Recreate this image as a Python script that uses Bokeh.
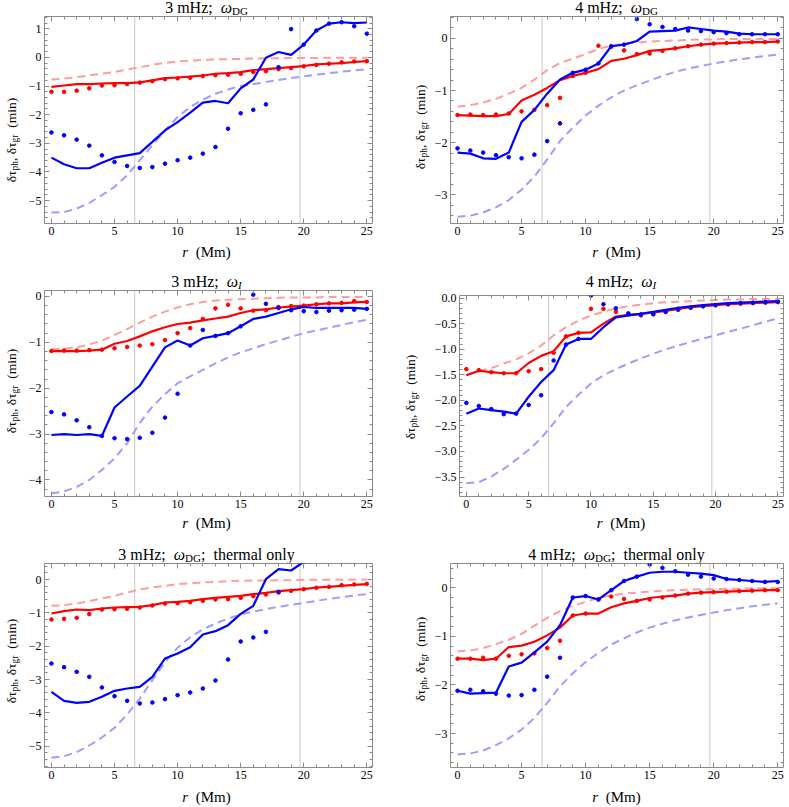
import math
from bokeh.plotting import figure
from bokeh.layouts import column, row
from bokeh.models import Span, LinearAxis, FixedTicker, Range1d, Div
from bokeh.embed import file_html
from bokeh.resources import INLINE

# ---------------- data ----------------
r = list(range(26))                 # r (Mm)
r_marks = [6.6, 19.7]               # vertical reference radii
x_ticks = [0, 5, 10, 15, 20, 25]

# Panel 1: 3 mHz; omega_DG
p1_red_line = [-1.03, -0.98, -0.93, -0.93, -0.91, -0.90, -0.90, -0.87, -0.80, -0.72, -0.70, -0.67, -0.63,
               -0.57, -0.55, -0.51, -0.44, -0.41, -0.37, -0.34, -0.30, -0.24, -0.22, -0.20, -0.16, -0.13]
p1_red_dots = [-1.20, -1.20, -1.16, -1.08, -0.98, -0.97, -0.93, -0.88, -0.83, -0.76, -0.73, -0.71, -0.65,
               -0.62, -0.60, -0.57, -0.51, -0.48, -0.41, -0.37, -0.31, -0.26, -0.22, -0.17, -0.14, -0.13]
p1_red_model = [-0.77, -0.74, -0.69, -0.63, -0.57, -0.51, -0.42, -0.34, -0.26, -0.19, -0.14, -0.11, -0.09,
                -0.07, -0.06, -0.05, -0.04, -0.03, -0.03, -0.02, -0.02, -0.02, -0.01, -0.01, -0.01, -0.01]
p1_blue_line = [-3.50, -3.73, -3.87, -3.87, -3.68, -3.50, -3.42, -3.34, -2.95, -2.55, -2.26, -1.93, -1.58,
                -1.52, -1.60, -1.08, -0.77, -0.01, 0.19, 0.09, 0.45, 0.94, 1.18, 1.23, 1.20, 1.22]
p1_blue_dots = [-2.62, -2.72, -2.87, -3.08, -3.42, -3.65, -3.79, -3.86, -3.83, -3.71, -3.59, -3.50, -3.36,
                -3.13, -2.49, -1.95, -1.83, -1.64, -0.34, 0.99, 0.45, 0.94, 1.18, 1.23, 1.09, 0.83]
p1_blue_model = [-5.42, -5.40, -5.28, -5.08, -4.81, -4.52, -4.12, -3.59, -3.07, -2.55, -2.08, -1.73, -1.47,
                 -1.27, -1.12, -1.00, -0.93, -0.86, -0.79, -0.72, -0.66, -0.60, -0.55, -0.50, -0.45, -0.41]

# Panel 2: 4 mHz; omega_DG
p2_red_line = [-1.47, -1.48, -1.49, -1.49, -1.45, -1.19, -1.08, -0.95, -0.80, -0.72, -0.66, -0.59, -0.43,
               -0.39, -0.32, -0.24, -0.22, -0.19, -0.15, -0.12, -0.10, -0.09, -0.08, -0.07, -0.07, -0.06]
p2_red_dots = [-1.47, -1.46, -1.47, -1.46, -1.44, -1.40, -1.37, -1.28, -1.14, -0.72, -0.66, -0.14, -0.16,
               -0.23, -0.30, -0.29, -0.24, -0.19, -0.15, -0.12, -0.10, -0.09, -0.08, -0.07, -0.07, -0.06]
p2_red_model = [-1.31, -1.28, -1.23, -1.16, -1.06, -0.95, -0.79, -0.61, -0.47, -0.39, -0.30, -0.20, -0.14,
                -0.10, -0.08, -0.06, -0.05, -0.04, -0.03, -0.02, -0.02, -0.01, -0.01, -0.01, -0.01, -0.01]
p2_blue_line = [-2.19, -2.21, -2.30, -2.31, -2.19, -1.60, -1.37, -1.06, -0.79, -0.66, -0.60, -0.48, -0.15,
                -0.12, -0.05, 0.13, 0.14, 0.15, 0.21, 0.18, 0.15, 0.13, 0.09, 0.08, 0.08, 0.08]
p2_blue_dots = [-2.11, -2.15, -2.19, -2.24, -2.28, -2.30, -2.23, -1.97, -1.63, -0.66, -0.60, -0.48, -0.15,
                -0.12, 0.37, 0.27, 0.22, 0.18, 0.15, 0.14, 0.12, 0.10, 0.08, 0.08, 0.08, 0.08]
p2_blue_model = [-3.42, -3.40, -3.34, -3.24, -3.10, -2.90, -2.65, -2.32, -1.97, -1.71, -1.48, -1.29, -1.13,
                 -1.00, -0.90, -0.81, -0.72, -0.64, -0.58, -0.53, -0.48, -0.44, -0.40, -0.37, -0.34, -0.31]

# Panel 3: 3 mHz; omega_I
p3_red_line = [-1.19, -1.19, -1.19, -1.18, -1.16, -1.03, -0.97, -0.87, -0.76, -0.67, -0.60, -0.57, -0.52,
               -0.48, -0.44, -0.36, -0.30, -0.28, -0.24, -0.22, -0.20, -0.17, -0.15, -0.15, -0.13, -0.12]
p3_red_dots = [-1.19, -1.18, -1.18, -1.17, -1.16, -1.13, -1.10, -1.07, -1.04, -0.95, -0.80, -0.69, -0.49,
               -0.26, -0.18, -0.26, -0.31, -0.30, -0.23, -0.21, -0.20, -0.17, -0.15, -0.14, -0.10, -0.12]
p3_red_model = [-1.15, -1.14, -1.11, -1.05, -0.96, -0.84, -0.71, -0.57, -0.44, -0.33, -0.24, -0.17, -0.12,
                -0.09, -0.07, -0.06, -0.05, -0.04, -0.03, -0.02, -0.02, -0.02, -0.01, -0.01, -0.01, -0.01]
p3_blue_line = [-3.02, -3.00, -3.02, -3.00, -3.04, -2.42, -2.18, -1.95, -1.53, -1.11, -0.96, -1.07, -0.91,
                -0.86, -0.80, -0.65, -0.49, -0.44, -0.36, -0.28, -0.23, -0.25, -0.25, -0.25, -0.25, -0.27]
p3_blue_dots = [-2.52, -2.57, -2.70, -2.85, -3.04, -3.09, -3.11, -3.08, -2.97, -2.64, -2.12, -1.07, -0.73,
                -0.86, -0.80, -0.65, 0.04, -0.16, -0.25, -0.30, -0.32, -0.34, -0.31, -0.30, -0.29, -0.27]
p3_blue_model = [-4.29, -4.25, -4.15, -4.00, -3.78, -3.53, -3.20, -2.76, -2.40, -2.13, -1.89, -1.74, -1.60,
                 -1.46, -1.33, -1.22, -1.13, -1.04, -0.96, -0.88, -0.80, -0.74, -0.68, -0.62, -0.56, -0.51]

# Panel 4: 4 mHz; omega_I
p4_red_line = [-1.51, -1.42, -1.45, -1.47, -1.47, -1.27, -1.13, -1.04, -0.75, -0.68, -0.67, -0.50, -0.36,
               -0.33, -0.31, -0.28, -0.25, -0.21, -0.18, -0.16, -0.14, -0.12, -0.11, -0.10, -0.09, -0.08]
p4_red_dots = [-1.39, -1.41, -1.45, -1.47, -1.47, -1.43, -1.39, -1.07, -0.75, -0.68, -0.21, -0.21, -0.27,
               -0.32, -0.34, -0.32, -0.27, -0.21, -0.18, -0.16, -0.14, -0.12, -0.11, -0.10, -0.09, -0.08]
p4_red_model = [-1.51, -1.43, -1.37, -1.28, -1.20, -1.08, -0.93, -0.73, -0.57, -0.44, -0.34, -0.27, -0.20,
                -0.16, -0.13, -0.10, -0.08, -0.07, -0.06, -0.05, -0.04, -0.03, -0.03, -0.02, -0.02, -0.02]
p4_blue_line = [-2.26, -2.16, -2.19, -2.22, -2.26, -1.93, -1.64, -1.41, -0.91, -0.80, -0.80, -0.57, -0.38,
                -0.34, -0.31, -0.27, -0.23, -0.19, -0.16, -0.14, -0.12, -0.10, -0.09, -0.08, -0.07, -0.06]
p4_blue_dots = [-2.05, -2.11, -2.17, -2.27, -2.26, -2.09, -1.90, -1.22, -0.91, -0.80, 0.05, -0.12, -0.20,
                -0.30, -0.32, -0.31, -0.27, -0.23, -0.19, -0.16, -0.14, -0.12, -0.10, -0.09, -0.08, -0.07]
p4_blue_model = [-3.62, -3.60, -3.49, -3.34, -3.16, -2.97, -2.74, -2.45, -2.13, -1.89, -1.67, -1.51, -1.39,
                 -1.28, -1.18, -1.09, -1.00, -0.93, -0.86, -0.79, -0.73, -0.66, -0.60, -0.53, -0.46, -0.40]

# Panel 5: 3 mHz; omega_DG; thermal only
p5_red_line = [-1.02, -0.95, -0.90, -0.92, -0.87, -0.84, -0.83, -0.82, -0.77, -0.69, -0.67, -0.64, -0.59,
               -0.55, -0.52, -0.49, -0.44, -0.40, -0.35, -0.32, -0.29, -0.24, -0.22, -0.19, -0.16, -0.14]
p5_red_dots = [-1.20, -1.18, -1.15, -1.04, -0.90, -0.89, -0.88, -0.84, -0.78, -0.72, -0.71, -0.68, -0.64,
               -0.60, -0.59, -0.55, -0.50, -0.45, -0.39, -0.34, -0.29, -0.25, -0.22, -0.17, -0.15, -0.13]
p5_red_model = [-0.79, -0.77, -0.72, -0.65, -0.57, -0.49, -0.39, -0.30, -0.24, -0.19, -0.14, -0.11, -0.09,
                -0.07, -0.05, -0.04, -0.03, -0.03, -0.02, -0.02, -0.01, -0.01, -0.01, -0.01, 0.00, 0.00]
p5_blue_line = [-3.37, -3.64, -3.70, -3.67, -3.52, -3.34, -3.27, -3.22, -2.92, -2.37, -2.22, -2.03, -1.65,
                -1.55, -1.37, -1.03, -0.79, 0.01, 0.31, 0.27, 0.53, 0.95, 1.20, 1.23, 1.20, 1.22]
p5_blue_dots = [-2.52, -2.63, -2.77, -2.92, -3.24, -3.50, -3.64, -3.72, -3.69, -3.59, -3.47, -3.39, -3.27,
                -3.03, -2.40, -1.86, -1.74, -1.57, -0.37, 0.99, 0.53, 0.95, 1.20, 1.23, 1.09, 0.83]
p5_blue_model = [-5.35, -5.30, -5.18, -4.98, -4.74, -4.45, -4.05, -3.57, -3.02, -2.48, -2.05, -1.73, -1.50,
                 -1.32, -1.17, -1.05, -0.96, -0.89, -0.82, -0.76, -0.70, -0.64, -0.58, -0.53, -0.48, -0.44]

# Panel 6: 4 mHz; omega_DG; thermal only
p6_red_line = [-1.46, -1.46, -1.49, -1.46, -1.22, -1.19, -1.11, -0.98, -0.82, -0.57, -0.53, -0.53, -0.40,
               -0.32, -0.27, -0.21, -0.18, -0.16, -0.12, -0.10, -0.09, -0.08, -0.07, -0.06, -0.05, -0.05]
p6_red_dots = [-1.46, -1.46, -1.44, -1.46, -1.40, -1.37, -1.35, -1.24, -1.09, -0.57, -0.53, -0.24, -0.18,
               -0.23, -0.27, -0.24, -0.20, -0.16, -0.12, -0.10, -0.09, -0.08, -0.07, -0.06, -0.05, -0.05]
p6_red_model = [-1.31, -1.29, -1.24, -1.16, -1.07, -0.95, -0.78, -0.62, -0.48, -0.37, -0.29, -0.21, -0.16,
                -0.12, -0.10, -0.08, -0.06, -0.05, -0.04, -0.03, -0.03, -0.02, -0.02, -0.01, -0.01, -0.01]
p6_blue_line = [-2.12, -2.18, -2.17, -2.16, -1.62, -1.54, -1.33, -1.11, -0.77, -0.20, -0.17, -0.24, -0.05,
                0.14, 0.23, 0.31, 0.33, 0.33, 0.31, 0.29, 0.26, 0.18, 0.16, 0.14, 0.12, 0.14]
p6_blue_dots = [-2.12, -2.10, -2.13, -2.18, -2.22, -2.21, -2.10, -1.83, -1.44, -0.20, -0.17, -0.24, -0.05,
                0.14, 0.23, 0.48, 0.41, 0.34, 0.27, 0.23, 0.19, 0.18, 0.16, 0.14, 0.12, 0.12]
p6_blue_model = [-3.43, -3.41, -3.35, -3.24, -3.10, -2.92, -2.68, -2.37, -2.03, -1.76, -1.53, -1.34, -1.17,
                 -1.04, -0.92, -0.82, -0.74, -0.67, -0.61, -0.56, -0.51, -0.46, -0.42, -0.38, -0.35, -0.32]

# titles, y ranges and y ticks
titles = [
    [("3 mHz;  ", "n"), ("ω", "i"), ("DG", "s")],
    [("4 mHz;  ", "n"), ("ω", "i"), ("DG", "s")],
    [("3 mHz;  ", "n"), ("ω", "i"), ("I", "si")],
    [("4 mHz;  ", "n"), ("ω", "i"), ("I", "si")],
    [("3 mHz;  ", "n"), ("ω", "i"), ("DG", "s"), (";  thermal only", "n")],
    [("4 mHz;  ", "n"), ("ω", "i"), ("DG", "s"), (";  thermal only", "n")],
]
x_label = [("r", "i"), ("  (Mm)", "n")]
y_label = [("δτ", "n"), ("ph", "s"), (", δτ", "n"), ("gr", "s"), ("  (min)", "n")]
y_ranges = [(-5.8, 1.43), (-3.55, 0.42), (-4.36, 0.13), (-3.88, 0.05), (-5.64, 0.48), (-3.7, 0.5)]
y_ticks = [
    [-5, -4, -3, -2, -1, 0, 1],
    [-3, -2, -1, 0],
    [-4, -3, -2, -1, 0],
    [0.0, -0.5, -1.0, -1.5, -2.0, -2.5, -3.0, -3.5],
    [-5, -4, -3, -2, -1, 0],
    [-3, -2, -1, 0],
]
y_decimals = [0, 0, 0, 1, 0, 0]
y_minor_step = [0.2, 0.2, 0.2, 0.1, 0.2, 0.2]

panel_data = [
    (p1_red_line, p1_red_dots, p1_red_model, p1_blue_line, p1_blue_dots, p1_blue_model),
    (p2_red_line, p2_red_dots, p2_red_model, p2_blue_line, p2_blue_dots, p2_blue_model),
    (p3_red_line, p3_red_dots, p3_red_model, p3_blue_line, p3_blue_dots, p3_blue_model),
    (p4_red_line, p4_red_dots, p4_red_model, p4_blue_line, p4_blue_dots, p4_blue_model),
    (p5_red_line, p5_red_dots, p5_red_model, p5_blue_line, p5_blue_dots, p5_blue_model),
    (p6_red_line, p6_red_dots, p6_red_model, p6_blue_line, p6_blue_dots, p6_blue_model),
]

# ---------------- styling ----------------
FONT = "Liberation Serif, Times New Roman, serif"
CSS_FONT = "Liberation Serif, Times New Roman, serif"
RED, BLUE = "#ff0000", "#0000ff"
LRED, LBLUE = "#ff9c9c", "#9d9dff"
FRAME = "#8a8a8a"
X_RANGE = (-0.55, 25.45)

# per panel: (cell width, ylabel div width, ylabel centre x in div, border_left, border_right,
#             ylabel shift, border_top)
cells = [
    (391, 25, 12, 16, 19, 20, 1),
    (396, 37, 30, 22, 4, 7, 1),
    (391, 25, 12, 16, 19, -2, 1),
    (396, 32, 20, 36, 4, 1, 6),
    (391, 25, 12, 16, 19, -4, 1),
    (396, 37, 30, 22, 4, -6, 1),
]
# per row: (title div height, frame height, x label div height, x label top offset)
rows_h = [(15, 207, 32, 2), (15, 206, 32, 0), (15, 204, 19, 3)]
B_BOTTOM = 19


def parts_html(parts, sub_size):
    out = []
    for t, k in parts:
        t = t.replace(" ", "&nbsp;")
        if "i" in k:
            t = f"<i>{t}</i>"
        if "s" in k:
            t = (f'<sub style="font-size:{sub_size}px;vertical-align:-0.22em;line-height:0">{t}</sub>')
        out.append(t)
    return "".join(out)


def box(inner, w, h):
    return f'<div style="position:relative;width:{w}px;height:{h}px;overflow:visible">{inner}</div>'


def fmt(v, dec):
    s = f"{abs(v):.{dec}f}"
    return ("\u2212" + s) if v < 0 else s


def style_axis(ax, ticker, labels):
    ax.ticker = ticker
    ax.axis_line_color = None
    ax.major_tick_in = 5
    ax.major_tick_out = 0
    ax.minor_tick_in = 3
    ax.minor_tick_out = 0
    ax.major_tick_line_color = FRAME
    ax.minor_tick_line_color = FRAME
    ax.major_label_text_font = FONT
    ax.major_label_text_font_size = "12px"
    ax.major_label_text_color = "black"
    ax.major_label_standoff = 3
    if labels is None:
        ax.major_label_overrides = {t: "" for t in ticker.ticks}
        ax.major_label_standoff = 0
        ax.major_label_text_font_size = "1px"
    else:
        ax.major_label_overrides = labels


panels = []
for i in range(6):
    cw, yw, ycx, bl, br, yshift, bt = cells[i]
    th, fh_row, xh, xtop = rows_h[i // 2]
    fig_h = 1 + fh_row + B_BOTTOM
    fh = fig_h - bt - B_BOTTOM
    fw = cw - yw
    ylo, yhi = y_ranges[i]
    p = figure(width=fw, height=fig_h, output_backend="svg", toolbar_location=None,
               x_range=Range1d(*X_RANGE), y_range=Range1d(ylo, yhi),
               min_border_left=bl, min_border_right=br, min_border_top=bt, min_border_bottom=B_BOTTOM)
    p.xgrid.visible = False
    p.ygrid.visible = False
    p.outline_line_color = FRAME
    p.outline_line_width = 1
    p.background_fill_color = None
    p.border_fill_color = None

    x_minor = list(range(0, 26))
    st = y_minor_step[i]
    y_minor = [round(k * st, 3) for k in range(math.ceil(ylo / st), math.floor(yhi / st) + 1)]

    style_axis(p.xaxis[0], FixedTicker(ticks=x_ticks, minor_ticks=x_minor), {t: str(t) for t in x_ticks})
    style_axis(p.yaxis[0], FixedTicker(ticks=y_ticks[i], minor_ticks=y_minor),
               {t: fmt(t, y_decimals[i]) for t in y_ticks[i]})
    top_ax = LinearAxis()
    style_axis(top_ax, FixedTicker(ticks=x_ticks, minor_ticks=x_minor), None)
    p.add_layout(top_ax, "above")
    right_ax = LinearAxis()
    style_axis(right_ax, FixedTicker(ticks=y_ticks[i], minor_ticks=y_minor), None)
    p.add_layout(right_ax, "right")

    for xm in r_marks:
        p.add_layout(Span(location=xm, dimension="height", line_color="#c8c8c8", line_width=1,
                          level="underlay"))

    red_line, red_dots, red_model, blue_line, blue_dots, blue_model = panel_data[i]
    p.line(r, blue_model, line_color=LBLUE, line_width=2, line_dash="8 5")
    p.line(r, red_model, line_color=LRED, line_width=2, line_dash="8 5")
    p.line(r, red_line, line_color=RED, line_width=2.2)
    p.scatter(r, red_dots, size=3.6, color=RED)
    p.line(r, blue_line, line_color=BLUE, line_width=2.2)
    p.scatter(r, blue_dots, size=3.6, color=BLUE)

    frame_w = fw - bl - br
    cx = yw + bl + frame_w / 2.0

    t_inner = (f'<div style="position:absolute;left:{cx}px;top:0px;transform:translateX(-50%);'
               f'white-space:nowrap;font-family:{CSS_FONT};font-size:16px;line-height:16px;color:#000">'
               f'{parts_html(titles[i], 11)}</div>')
    title_div = Div(text=box(t_inner, cw, th), width=cw, height=th, margin=0)

    x_inner = (f'<div style="position:absolute;left:{cx}px;top:{xtop}px;transform:translateX(-50%);'
               f'white-space:nowrap;font-family:{CSS_FONT};font-size:15px;line-height:16px;color:#000">'
               f'{parts_html(x_label, 11)}</div>')
    xlab_div = Div(text=box(x_inner, cw, xh), width=cw, height=xh, margin=0)

    cy = bt + fh / 2.0 + yshift
    y_inner = (f'<div style="position:absolute;left:{ycx}px;top:{cy}px;'
               f'transform:translate(-50%,-50%) rotate(-90deg);white-space:nowrap;'
               f'font-family:{CSS_FONT};font-size:13.5px;line-height:14px;color:#000">'
               f'{parts_html(y_label, 9.5)}</div>')
    ylab_div = Div(text=box(y_inner, yw, fig_h), width=yw, height=fig_h, margin=0)

    panels.append(column(title_div, row(ylab_div, p, spacing=0), xlab_div, spacing=0))

page = column(row(panels[0], panels[1], spacing=0),
              row(panels[2], panels[3], spacing=0),
              row(panels[4], panels[5], spacing=0), spacing=0)

open("out.html", "w").write(file_html(page, INLINE))
